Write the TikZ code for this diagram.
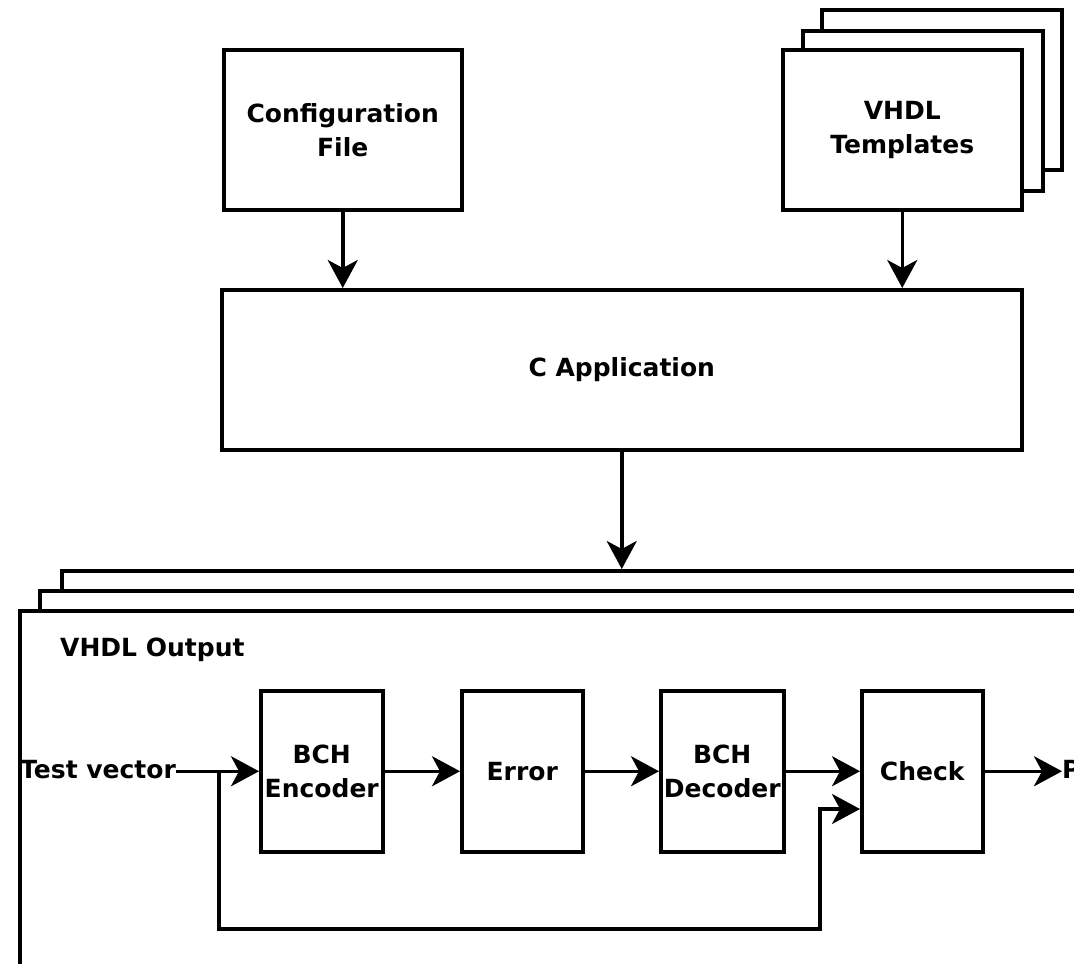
\documentclass[tikz,border=0pt]{standalone}
\usepackage{fontspec}
\setmainfont{DejaVu Sans}
\usetikzlibrary{arrows.meta}
\tikzset{
  blk/.style={draw, line width=3.5pt, fill=white, inner sep=0pt, align=center,
    font=\bfseries\fontsize{25}{34}\selectfont, anchor=north west},
  frame/.style={draw, line width=3.5pt, fill=white, inner sep=0pt, anchor=north west},
  arr/.style={line width=3.5pt, -{Stealth[length=28pt,width=30pt,inset=8pt]}},
  lbl/.style={font=\bfseries\fontsize{25}{34}\selectfont, inner sep=0pt},
}
\begin{document}
\begin{tikzpicture}[x=1pt,y=-1pt]
\useasboundingbox (0,0) rectangle (1074,964);
\clip (0,0) rectangle (1074,964);
% top inputs
\node[blk, minimum width=238pt, minimum height=160pt] (cfg) at (222,48) {Configuration\\File};
\node[frame, minimum width=240pt, minimum height=160pt] (tpl3) at (820,8) {};
\node[frame, minimum width=240pt, minimum height=160pt] (tpl2) at (801,29) {};
\node[blk, minimum width=239pt, minimum height=160pt] (tpl) at (781,48) {VHDL\\Templates};
% C application
\node[blk, minimum width=800pt, minimum height=160pt] (capp) at (220,288) {C Application};
\draw[arr] (cfg.south) -- (cfg.south |- capp.north);
\draw[arr] (tpl.south) -- (tpl.south |- capp.north);
% output stack
\node[frame, minimum width=1140pt, minimum height=540pt] (out3) at (60,569) {};
\node[frame, minimum width=1160pt, minimum height=520pt] (out2) at (38,589) {};
\node[frame, minimum width=1180pt, minimum height=500pt] (out) at (18,609) {};
\draw[arr] (capp.south) -- (capp.south |- out3.north);
\node[lbl, anchor=west] (title) at (60,650) {VHDL Output};
% chain
\node[blk, minimum width=122pt, minimum height=161pt] (enc) at (259,689) {BCH\\Encoder};
\node[blk, minimum width=121pt, minimum height=161pt] (err) at (460,689) {Error};
\node[blk, minimum width=123pt, minimum height=161pt] (dec) at (659,689) {BCH\\Decoder};
\node[blk, minimum width=121pt, minimum height=161pt] (chk) at (860,689) {Check};
\node[lbl, anchor=west] (tv) at (20,769.5) {Test vector};
\node[lbl, anchor=west] (res) at (1062,769.5) {P};
\draw[arr] (tv.east |- enc.west) -- (enc.west);
\draw[arr] (enc.east) -- (err.west);
\draw[arr] (err.east) -- (dec.west);
\draw[arr] (dec.east) -- (chk.west);
\draw[arr] (chk.east) -- (chk.east -| res.west);
\coordinate (br) at (219,769.5);
\coordinate (b1) at (219,929);
\coordinate (b2) at (820,929);
\coordinate (b3) at (820,809);
\draw[arr] (br) -- (b1) -- (b2) -- (b3) -- (b3 -| chk.west);
\end{tikzpicture}
\end{document}
